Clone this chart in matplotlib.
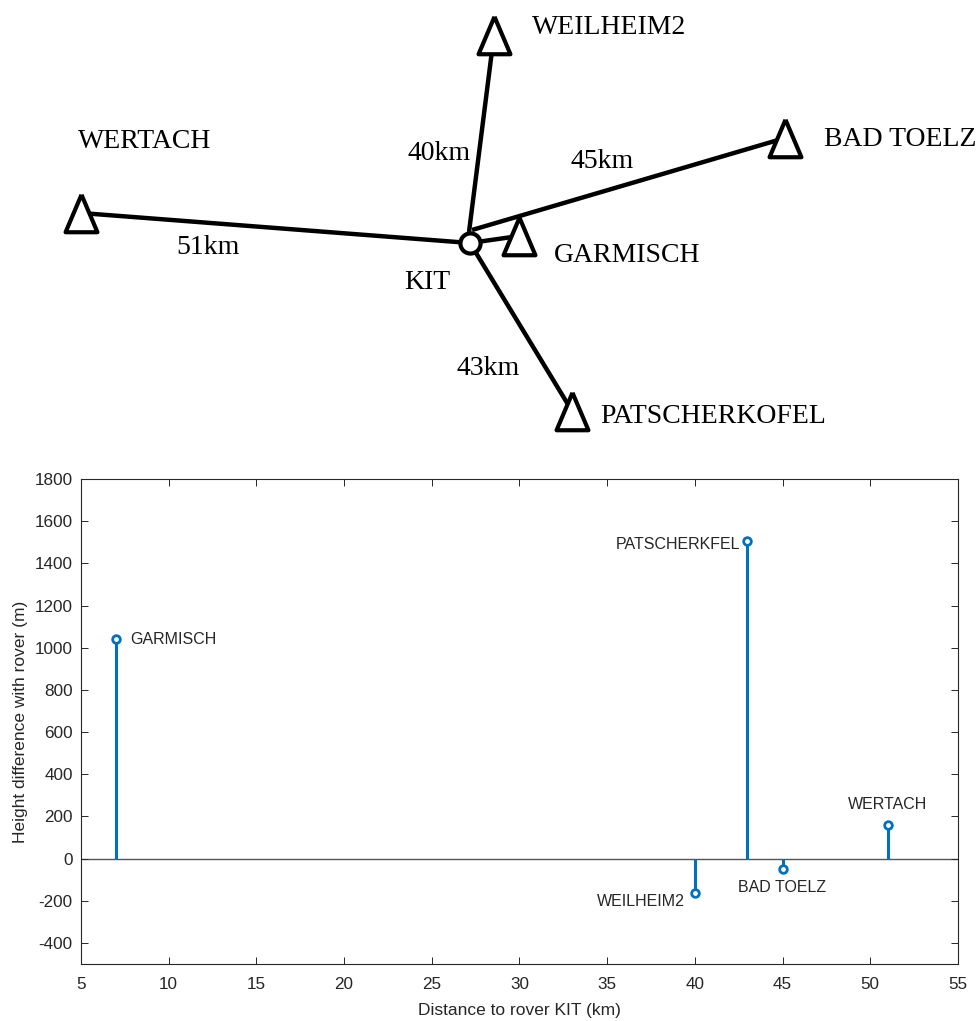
import matplotlib
matplotlib.use('Agg')
import matplotlib.pyplot as plt

plt.rcParams['axes.unicode_minus'] = False

# station layout for the sketch (drawing units, y grows downwards)
kit_xy = (470, 243)
sites = ['WEILHEIM2', 'BAD TOELZ', 'WERTACH', 'GARMISCH', 'PATSCHERKOFEL']
site_x = [494, 785, 81, 519, 572]
site_y = [35, 138, 213, 236, 411]
line_start = [(469, 232), (472, 230), (470, 243), (470, 243), (470, 243)]
site_label_xy = [(532, 28), (824, 140), (78, 141), (554, 255), (600, 416)]
dist_labels = ['40km', '45km', '51km', '43km']
dist_label_xy = [(408, 154), (571, 161), (176, 247), (457, 368)]

# stem plot data
dist_km = [7, 43, 40, 45, 51]
height_m = [1040, 1505, -165, -50, 160]
stem_names = ['GARMISCH', 'PATSCHERKFEL', 'WEILHEIM2', 'BAD TOELZ', 'WERTACH']
xticks = list(range(5, 60, 5))
yticks = list(range(-400, 2000, 200))

fig = plt.figure(figsize=(9.79, 10.21), dpi=100)

# --- network sketch ---
sk = fig.add_axes([0, 0, 1, 1])
sk.set_xlim(0, 979)
sk.set_ylim(1021, 0)
sk.axis('off')

# slightly taller than wide, like a survey benchmark symbol
tri = [(0, 1), (-0.85, -1), (0.85, -1), (0, 1)]

for (x0, y0), x1, y1 in zip(line_start, site_x, site_y):
    sk.plot([x0, x1], [y0, y1], color='black', lw=3.2, solid_capstyle='butt', zorder=1)
sk.plot(site_x, site_y, ls='none', marker=tri, ms=27, mfc='white', mec='black', mew=3,
        zorder=3)
sk.plot(*kit_xy, marker='o', ms=14.5, mfc='white', mec='black', mew=3, zorder=3)

serif = dict(family='Liberation Serif', fontsize=20, color='black', va='center')
for name, (tx, ty) in zip(sites, site_label_xy):
    sk.text(tx, ty, name, ha='left', **serif)
sk.text(404, 282, 'KIT', ha='left', **serif)
for lab, (tx, ty) in zip(dist_labels, dist_label_xy):
    sk.text(tx, ty, lab, ha='left', **serif)

# --- height difference stem plot ---
ax = fig.add_axes([0.0827, 0.0558, 0.8958, 0.475])
ax.set_zorder(2)
blue = '#0072BD'
dark = '#262626'
ml, sl, bl = ax.stem(dist_km, height_m, basefmt=' ')
plt.setp(sl, color=blue, linewidth=2.2)
plt.setp(ml, marker='o', markersize=5.5, mfc='white', mec=blue, mew=2)
ax.axhline(0, color='#555555', lw=1.0, zorder=1)

ax.set_xlim(5, 55)
ax.set_ylim(-500, 1800)
ax.set_xticks(xticks)
ax.set_yticks(yticks)
ax.tick_params(direction='in', top=True, right=True, length=5, width=0.7,
               colors=dark, labelsize=12.3)
ax.tick_params(axis='x', pad=9.5)
ax.tick_params(axis='y', pad=6)
for lbl in ax.get_xticklabels() + ax.get_yticklabels():
    lbl.set_family('Liberation Sans')
for sp in ax.spines.values():
    sp.set_color(dark)
    sp.set_linewidth(0.8)
ax.set_xlabel('Distance to rover KIT (km)', family='Liberation Sans', fontsize=12.5,
              color=dark, labelpad=8)
ax.set_ylabel('Height difference with rover (m)', family='Liberation Sans', fontsize=12.5,
              color=dark, labelpad=5)

ann_offset = [(10, 0), (-5, -2), (-7, -6), (0, -13), (0, 15)]
ann_ha = ['left', 'right', 'right', 'center', 'center']
for name, x, y, off, ha in zip(stem_names, dist_km, height_m, ann_offset, ann_ha):
    ax.annotate(name, (x, y), xytext=off, textcoords='offset points', ha=ha, va='center',
                family='Liberation Sans', fontsize=11.5, color=dark)

fig.savefig('out.png', dpi=100)
